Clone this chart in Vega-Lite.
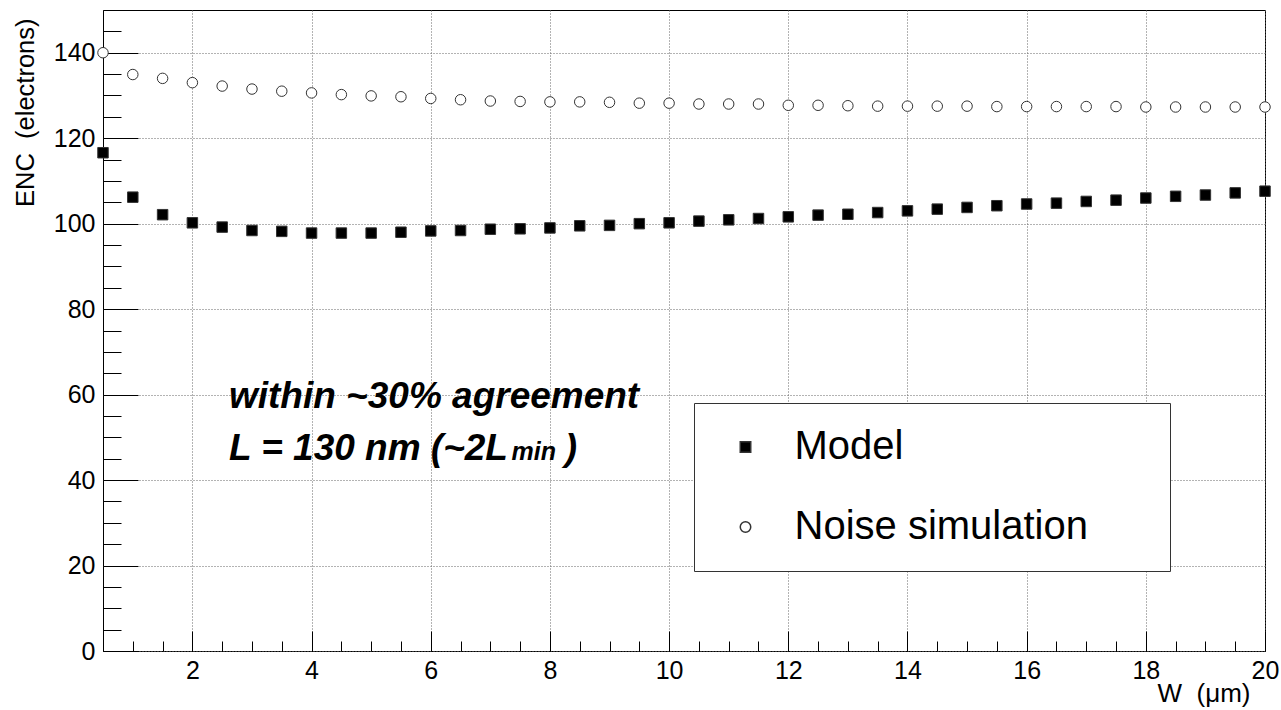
{
  "$schema": "https://vega.github.io/schema/vega-lite/v6.json",
  "width": 1162,
  "height": 641,
  "autosize": "none",
  "padding": {"left": 103, "top": 10, "right": 16, "bottom": 59},
  "background": "white",
  "config": {
    "view": {"stroke": "#000", "strokeWidth": 1},
    "font": "Liberation Sans",
    "axis": {"labelFont": "Liberation Sans", "titleFont": "Liberation Sans", "labelColor": "#000", "titleColor": "#000", "tickColor": "#000", "tickWidth": 1, "domain": false}
  },
  "datasets": {
    "points": [
      {"W": 0.5, "ENC": 140.0, "series": "Noise simulation"},
      {"W": 1.0, "ENC": 134.9, "series": "Noise simulation"},
      {"W": 1.5, "ENC": 134.0, "series": "Noise simulation"},
      {"W": 2.0, "ENC": 133.0, "series": "Noise simulation"},
      {"W": 2.5, "ENC": 132.2, "series": "Noise simulation"},
      {"W": 3.0, "ENC": 131.5, "series": "Noise simulation"},
      {"W": 3.5, "ENC": 131.0, "series": "Noise simulation"},
      {"W": 4.0, "ENC": 130.6, "series": "Noise simulation"},
      {"W": 4.5, "ENC": 130.2, "series": "Noise simulation"},
      {"W": 5.0, "ENC": 129.9, "series": "Noise simulation"},
      {"W": 5.5, "ENC": 129.7, "series": "Noise simulation"},
      {"W": 6.0, "ENC": 129.3, "series": "Noise simulation"},
      {"W": 6.5, "ENC": 129.0, "series": "Noise simulation"},
      {"W": 7.0, "ENC": 128.7, "series": "Noise simulation"},
      {"W": 7.5, "ENC": 128.6, "series": "Noise simulation"},
      {"W": 8.0, "ENC": 128.5, "series": "Noise simulation"},
      {"W": 8.5, "ENC": 128.5, "series": "Noise simulation"},
      {"W": 9.0, "ENC": 128.4, "series": "Noise simulation"},
      {"W": 9.5, "ENC": 128.2, "series": "Noise simulation"},
      {"W": 10.0, "ENC": 128.2, "series": "Noise simulation"},
      {"W": 10.5, "ENC": 128.0, "series": "Noise simulation"},
      {"W": 11.0, "ENC": 128.0, "series": "Noise simulation"},
      {"W": 11.5, "ENC": 128.0, "series": "Noise simulation"},
      {"W": 12.0, "ENC": 127.7, "series": "Noise simulation"},
      {"W": 12.5, "ENC": 127.7, "series": "Noise simulation"},
      {"W": 13.0, "ENC": 127.6, "series": "Noise simulation"},
      {"W": 13.5, "ENC": 127.5, "series": "Noise simulation"},
      {"W": 14.0, "ENC": 127.5, "series": "Noise simulation"},
      {"W": 14.5, "ENC": 127.5, "series": "Noise simulation"},
      {"W": 15.0, "ENC": 127.5, "series": "Noise simulation"},
      {"W": 15.5, "ENC": 127.4, "series": "Noise simulation"},
      {"W": 16.0, "ENC": 127.4, "series": "Noise simulation"},
      {"W": 16.5, "ENC": 127.4, "series": "Noise simulation"},
      {"W": 17.0, "ENC": 127.4, "series": "Noise simulation"},
      {"W": 17.5, "ENC": 127.4, "series": "Noise simulation"},
      {"W": 18.0, "ENC": 127.3, "series": "Noise simulation"},
      {"W": 18.5, "ENC": 127.3, "series": "Noise simulation"},
      {"W": 19.0, "ENC": 127.3, "series": "Noise simulation"},
      {"W": 19.5, "ENC": 127.3, "series": "Noise simulation"},
      {"W": 20.0, "ENC": 127.3, "series": "Noise simulation"},
      {"W": 0.5, "ENC": 116.6, "series": "Model"},
      {"W": 1.0, "ENC": 106.2, "series": "Model"},
      {"W": 1.5, "ENC": 102.1, "series": "Model"},
      {"W": 2.0, "ENC": 100.2, "series": "Model"},
      {"W": 2.5, "ENC": 99.2, "series": "Model"},
      {"W": 3.0, "ENC": 98.4, "series": "Model"},
      {"W": 3.5, "ENC": 98.2, "series": "Model"},
      {"W": 4.0, "ENC": 97.8, "series": "Model"},
      {"W": 4.5, "ENC": 97.8, "series": "Model"},
      {"W": 5.0, "ENC": 97.8, "series": "Model"},
      {"W": 5.5, "ENC": 98.0, "series": "Model"},
      {"W": 6.0, "ENC": 98.3, "series": "Model"},
      {"W": 6.5, "ENC": 98.4, "series": "Model"},
      {"W": 7.0, "ENC": 98.7, "series": "Model"},
      {"W": 7.5, "ENC": 98.8, "series": "Model"},
      {"W": 8.0, "ENC": 99.0, "series": "Model"},
      {"W": 8.5, "ENC": 99.5, "series": "Model"},
      {"W": 9.0, "ENC": 99.6, "series": "Model"},
      {"W": 9.5, "ENC": 100.0, "series": "Model"},
      {"W": 10.0, "ENC": 100.2, "series": "Model"},
      {"W": 10.5, "ENC": 100.6, "series": "Model"},
      {"W": 11.0, "ENC": 100.9, "series": "Model"},
      {"W": 11.5, "ENC": 101.2, "series": "Model"},
      {"W": 12.0, "ENC": 101.6, "series": "Model"},
      {"W": 12.5, "ENC": 102.0, "series": "Model"},
      {"W": 13.0, "ENC": 102.2, "series": "Model"},
      {"W": 13.5, "ENC": 102.6, "series": "Model"},
      {"W": 14.0, "ENC": 103.0, "series": "Model"},
      {"W": 14.5, "ENC": 103.4, "series": "Model"},
      {"W": 15.0, "ENC": 103.8, "series": "Model"},
      {"W": 15.5, "ENC": 104.2, "series": "Model"},
      {"W": 16.0, "ENC": 104.6, "series": "Model"},
      {"W": 16.5, "ENC": 104.8, "series": "Model"},
      {"W": 17.0, "ENC": 105.2, "series": "Model"},
      {"W": 17.5, "ENC": 105.5, "series": "Model"},
      {"W": 18.0, "ENC": 106.0, "series": "Model"},
      {"W": 18.5, "ENC": 106.4, "series": "Model"},
      {"W": 19.0, "ENC": 106.7, "series": "Model"},
      {"W": 19.5, "ENC": 107.2, "series": "Model"},
      {"W": 20.0, "ENC": 107.6, "series": "Model"}
    ],
    "notes": [
      {"W": 2.614, "ENC": 56.8, "text": "within ~30% agreement"},
      {"W": 2.614, "ENC": 44.7, "text": "L = 130 nm (~2L"},
      {"W": 8.25, "ENC": 44.7, "text": ")"}
    ],
    "subscript": [
      {"W": 7.357, "ENC": 44.7, "text": "min"}
    ]
  },
  "layer": [
    {
      "data": {"name": "points"},
      "mark": {"type": "point", "size": 110, "strokeWidth": 1, "stroke": "#333", "opacity": 1},
      "encoding": {
        "x": {
          "field": "W", "type": "quantitative",
          "scale": {"domain": [0.5, 20], "nice": false, "zero": false},
          "axis": {
            "orient": "bottom", "title": "W\u00a0 (μm)",
            "values": [2, 4, 6, 8, 10, 12, 14, 16, 18, 20],
            "tickSize": -20, "labelPadding": 27, "labelFontSize": 25, "labelFlush": false, "labelOverlap": false,
            "grid": true, "gridDash": [1, 2], "gridColor": "#666", "gridWidth": 1,
            "titleFontSize": 26, "titleFontWeight": "normal", "titleX": 1147, "titleY": 50,
            "titleAlign": "right", "titleBaseline": "alphabetic", "titleAngle": 0
          }
        },
        "y": {
          "field": "ENC", "type": "quantitative",
          "scale": {"domain": [0, 150], "nice": false, "zero": true},
          "axis": {
            "orient": "left", "title": "ENC\u00a0 (electrons)",
            "values": [0, 20, 40, 60, 80, 100, 120, 140],
            "tickSize": -35, "labelPadding": 43, "labelFontSize": 25, "labelFlush": false, "labelOverlap": false,
            "grid": true, "gridDash": [1, 2], "gridColor": "#666", "gridWidth": 1,
            "titleFontSize": 25.5, "titleFontWeight": "normal", "titleX": -70, "titleY": 8,
            "titleAlign": "right", "titleBaseline": "alphabetic", "titleAngle": -90
          }
        },
        "shape": {
          "field": "series", "type": "nominal",
          "scale": {"domain": ["Model", "Noise simulation"], "range": ["square", "circle"]},
          "legend": {
            "title": null, "orient": "none", "legendX": 591, "legendY": 393,
            "padding": 24, "rowPadding": 40, "symbolSize": 110, "symbolOffset": 7.5, "labelOffset": 29,
            "labelFontSize": 40, "labelFont": "Liberation Sans", "labelColor": "#000", "labelLimit": 0,
            "labelExpr": "datum.label + '\u2800\u2800'",
            "strokeColor": "#333", "fillColor": "#fff",
            "encode": {"symbols": {"update": {"stroke": {"value": "#333"}, "strokeWidth": {"value": 1}, "opacity": {"value": 1}}}}
          }
        },
        "fill": {
          "field": "series", "type": "nominal",
          "scale": {"domain": ["Model", "Noise simulation"], "range": ["#000", "#fff"]},
          "legend": {
            "title": null, "orient": "none", "legendX": 591, "legendY": 393,
            "padding": 24, "rowPadding": 40, "symbolSize": 110, "symbolOffset": 7.5, "labelOffset": 29,
            "labelFontSize": 40, "labelFont": "Liberation Sans", "labelColor": "#000", "labelLimit": 0,
            "labelExpr": "datum.label + '\u2800\u2800'",
            "strokeColor": "#333", "fillColor": "#fff",
            "encode": {"symbols": {"update": {"stroke": {"value": "#333"}, "strokeWidth": {"value": 1}, "opacity": {"value": 1}}}}
          }
        }
      }
    },
    {
      "data": {"name": "notes"},
      "mark": {"type": "text", "font": "Liberation Sans", "fontSize": 37, "fontStyle": "italic", "fontWeight": "bold", "align": "left", "baseline": "alphabetic", "color": "#000"},
      "encoding": {
        "x": {
          "field": "W", "type": "quantitative",
          "axis": {
            "orient": "bottom", "title": null, "labels": false, "grid": false,
            "values": [0.5, 1, 1.5, 2, 2.5, 3, 3.5, 4, 4.5, 5, 5.5, 6, 6.5, 7, 7.5, 8, 8.5, 9, 9.5, 10, 10.5, 11, 11.5, 12, 12.5, 13, 13.5, 14, 14.5, 15, 15.5, 16, 16.5, 17, 17.5, 18, 18.5, 19, 19.5, 20],
            "tickSize": -10
          }
        },
        "y": {
          "field": "ENC", "type": "quantitative",
          "axis": {
            "orient": "left", "title": null, "labels": false, "grid": false,
            "values": [0, 5, 10, 15, 20, 25, 30, 35, 40, 45, 50, 55, 60, 65, 70, 75, 80, 85, 90, 95, 100, 105, 110, 115, 120, 125, 130, 135, 140, 145, 150],
            "tickSize": -18
          }
        },
        "text": {"field": "text", "type": "nominal"}
      }
    },
    {
      "data": {"name": "subscript"},
      "mark": {"type": "text", "font": "Liberation Sans", "fontSize": 25, "fontStyle": "italic", "fontWeight": "bold", "align": "left", "baseline": "alphabetic", "color": "#000"},
      "encoding": {
        "x": {"field": "W", "type": "quantitative", "axis": null},
        "y": {"field": "ENC", "type": "quantitative", "axis": null},
        "text": {"field": "text", "type": "nominal"}
      }
    }
  ],
  "resolve": {"axis": {"x": "independent", "y": "independent"}}
}
